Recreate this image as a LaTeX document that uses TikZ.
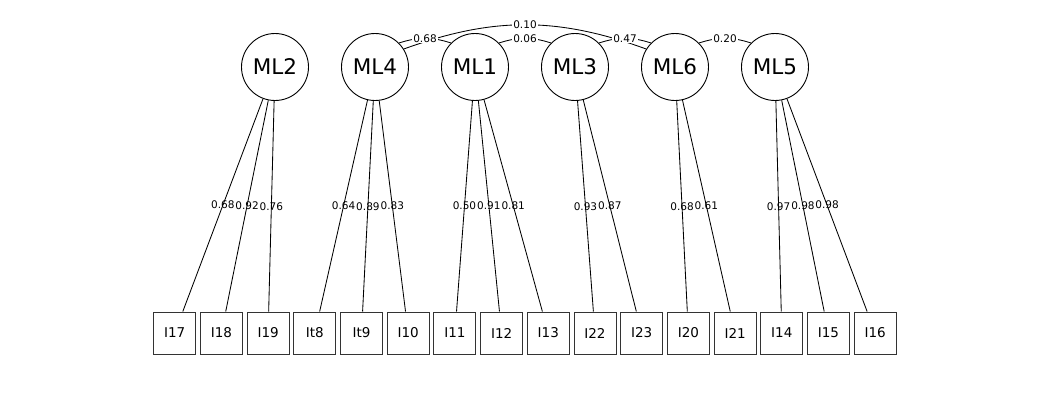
\documentclass[tikz,border=0pt]{standalone}
\usepackage{fontspec}
\setmainfont{DejaVu Sans}
\begin{document}
\begin{tikzpicture}[x=1pt,y=1pt,
  lat/.style={circle,draw=black,line width=0.9pt,minimum size=67pt,inner sep=0pt,font=\fontsize{21.5}{25}\selectfont},
  obs/.style={rectangle,draw=black!80,line width=1pt,minimum size=42pt,inner sep=0pt,font=\fontsize{13.5}{16}\selectfont},
  load/.style={line width=0.85pt},
  lab/.style={font=\fontsize{10.5}{12}\selectfont,inner sep=0pt},
  covlab/.style={font=\fontsize{10.5}{12}\selectfont,fill=white,inner sep=1pt}]
\useasboundingbox (0,0) rectangle (1050,400);
% latent nodes
\node[lat] (ML2) at (275,333) {ML2};
\node[lat] (ML4) at (375,333) {ML4};
\node[lat] (ML1) at (475,333) {ML1};
\node[lat] (ML3) at (575,333) {ML3};
\node[lat] (ML6) at (675,333) {ML6};
\node[lat] (ML5) at (775,333) {ML5};
% observed nodes
\foreach \n [count=\i from 0] in {I17,I18,I19,It8,It9,I10,I11,I12,I13,I22,I23,I20,I21,I14,I15,I16}{
  \node[obs] (\n) at ({174.7+46.7*\i},67) {\n};
}
% loadings
\foreach \f/\o/\v in {ML2/I17/0.68,ML2/I18/0.92,ML2/I19/0.76,
                      ML4/It8/0.64,ML4/It9/0.89,ML4/I10/0.83,
                      ML1/I11/0.50,ML1/I12/0.91,ML1/I13/0.81,
                      ML3/I22/0.93,ML3/I23/0.87,
                      ML6/I20/0.68,ML6/I21/0.61,
                      ML5/I14/0.97,ML5/I15/0.98,ML5/I16/0.98}{
  \draw[load] (\f) -- node[lab,midway]{\v} (\o);
}
% covariances
\draw[load] (ML4.32) to[out=20,in=160] node[covlab,midway]{0.10} (ML6.148);
\draw[load] (ML4.45) to[out=18,in=162] node[covlab,midway]{0.68} (ML1.135);
\draw[load] (ML1.45) to[out=18,in=162] node[covlab,midway]{0.06} (ML3.135);
\draw[load] (ML3.45) to[out=18,in=162] node[covlab,midway]{0.47} (ML6.135);
\draw[load] (ML6.45) to[out=18,in=162] node[covlab,midway]{0.20} (ML5.135);
\end{tikzpicture}
\end{document}
